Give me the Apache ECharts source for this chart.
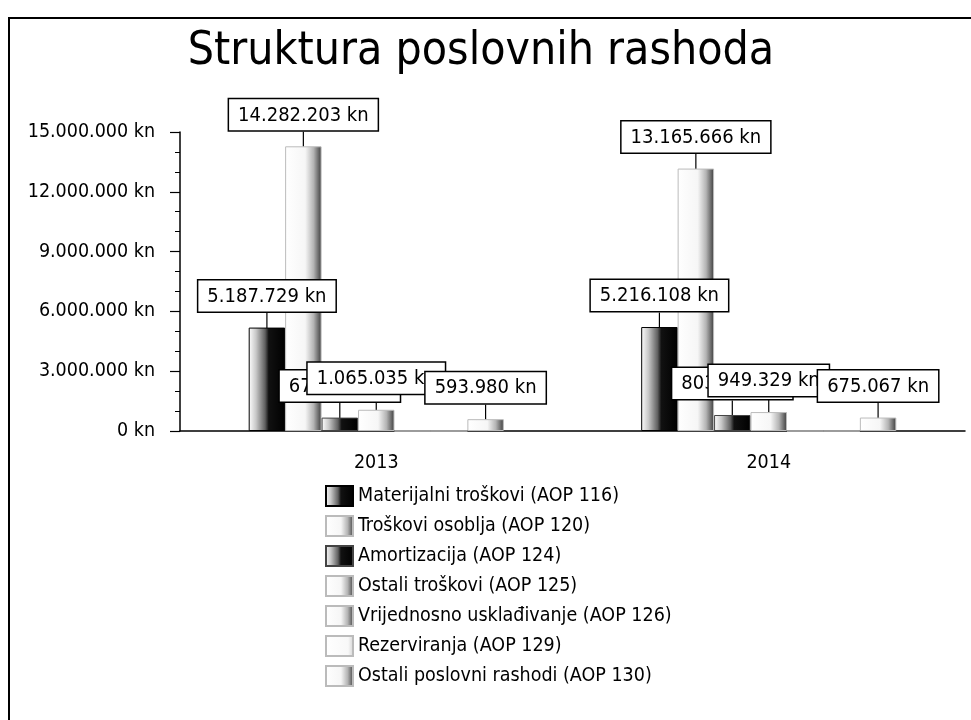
<!DOCTYPE html>
<html>
<head>
<meta charset="utf-8">
<script src="https://cdn.jsdelivr.net/npm/echarts@6/dist/echarts.min.js"></script>
<style>
html,body{margin:0;padding:0;background:#fff;overflow:hidden;}
#chart{width:971px;height:720px;position:absolute;left:0;top:0;}
#frame{position:absolute;left:8px;top:17px;width:970px;height:710px;border-left:2px solid #000;border-top:2px solid #000;pointer-events:none;}
</style>
</head>
<body>
<div id="chart"></div>
<div id="frame"></div>
<script>
// ---- data ----
const categories = ['2013', '2014'];
const seriesNames = [
  'Materijalni troškovi (AOP 116)',
  'Troškovi osoblja (AOP 120)',
  'Amortizacija (AOP 124)',
  'Ostali troškovi (AOP 125)',
  'Vrijednosno usklađivanje (AOP 126)',
  'Rezerviranja (AOP 129)',
  'Ostali poslovni rashodi (AOP 130)'
];
const materijalniTroskovi = [5187729, 5216108];
const troskoviOsoblja = [14282203, 13165666];
const amortizacija = [672000, 803000];
const ostaliTroskovi = [1065035, 949329];
const vrijednosnoUskladivanje = [0, 0];
const rezerviranja = [0, 0];
const ostaliPoslovniRashodi = [593980, 675067];
const yMin = 0, yMax = 15000000, yInterval = 3000000;
const minorTickSlots = ['', '', '', '', '', '', '', '', '', ''];

const seriesValues = [materijalniTroskovi, troskoviOsoblja, amortizacija, ostaliTroskovi,
  vrijednosnoUskladivanje, rezerviranja, ostaliPoslovniRashodi];

function fmt(v) {
  return String(Math.round(v)).replace(/\B(?=(\d{3})+(?!\d))/g, '.') + ' kn';
}

const FONT = '"DejaVu Sans Condensed"';
const G = echarts.graphic.LinearGradient;
const darkGrad = () => new G(0, 0, 1, 0, [
  {offset: 0, color: '#ffffff'}, {offset: 0.2, color: '#c8c8c8'},
  {offset: 0.45, color: '#606060'}, {offset: 0.55, color: '#111111'}, {offset: 1, color: '#000000'}]);
const grayGrad = () => new G(0, 0, 1, 0, [
  {offset: 0, color: '#ffffff'}, {offset: 0.55, color: '#f6f6f6'},
  {offset: 0.78, color: '#b4b4b4'}, {offset: 1, color: '#3c3c3c'}]);
const whiteGrad = () => new G(0, 0, 1, 0, [
  {offset: 0, color: '#ffffff'}, {offset: 0.8, color: '#f8f8f8'}, {offset: 1, color: '#d0d0d0'}]);
const fills = [darkGrad(), grayGrad(), darkGrad(), grayGrad(), grayGrad(), whiteGrad(), grayGrad()];
const borders = ['#000', '#bbb', '#444', '#bbb', '#bbb', '#bbb', '#bbb'];

const chart = echarts.init(document.getElementById('chart'), null, {renderer: 'canvas'});
chart.setOption({
  animation: false,
  backgroundColor: '#fff',
  title: {
    text: 'Struktura poslovnih rashoda',
    left: 476, top: 24, textAlign: 'center',
    textStyle: {fontFamily: FONT, fontSize: 46, fontWeight: 'normal', color: '#000'}
  },
  legend: {
    orient: 'vertical', left: 320, top: 480,
    itemWidth: 27, itemHeight: 20, itemGap: 8,
    icon: 'rect',
    data: seriesNames,
    textStyle: {fontFamily: FONT, fontSize: 19.5, color: '#000'}
  },
  grid: {left: 180, right: 6, top: 132, bottom: 289, containLabel: false},
  xAxis: [{
    type: 'category', data: categories, position: 'bottom',
    axisLine: {lineStyle: {color: '#000', width: 1.5}},
    axisTick: {alignWithLabel: true, length: 8, lineStyle: {color: '#000', width: 1.5}},
    axisLabel: {fontFamily: FONT, fontSize: 19.5, color: '#000', margin: 22}
  }, {
    type: 'category', data: minorTickSlots, position: 'bottom',
    axisLine: {show: false},
    axisTick: {alignWithLabel: true, length: 4, lineStyle: {color: '#000', width: 1.2}},
    axisLabel: {show: false}
  }],
  yAxis: {
    type: 'value', min: yMin, max: yMax, interval: yInterval,
    axisLine: {show: true, lineStyle: {color: '#000', width: 1.5}},
    axisTick: {show: true, length: 10, lineStyle: {color: '#000', width: 1.2}},
    minorTick: {show: true, splitNumber: 3, length: 5, lineStyle: {color: '#000', width: 1}},
    splitLine: {show: false},
    axisLabel: {fontFamily: FONT, fontSize: 19.5, color: '#000', margin: 25, formatter: v => fmt(v)}
  },
  series: seriesNames.map((name, i) => ({
    name: name, type: 'bar', xAxisIndex: 0,
    barGap: '0%', barCategoryGap: '35%',
    itemStyle: {color: fills[i], borderColor: borders[i], borderWidth: 1},
    data: seriesValues[i].map(v => ({value: v, label: {show: v > 0}})),
    label: {
      show: true, position: 'top', distance: 1,
      formatter: p => fmt(p.value),
      fontFamily: FONT, fontSize: 20, color: '#000', lineHeight: 20,
      backgroundColor: '#fff', borderColor: '#000', borderWidth: 1.5,
      padding: [6, 9, 5, 9]
    },
    labelLayout: {dy: -15},
    labelLine: {show: true, lineStyle: {color: '#000', width: 1.2}}
  }))
});
</script>
</body>
</html>
